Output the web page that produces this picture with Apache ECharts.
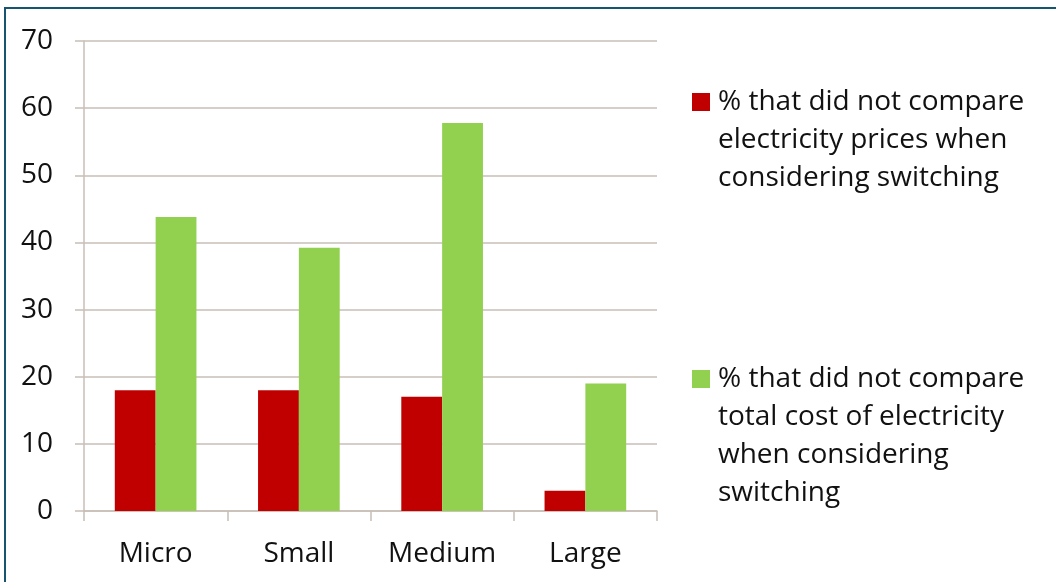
<!DOCTYPE html>
<html>
<head>
<meta charset="utf-8">
<script src="https://cdn.jsdelivr.net/npm/echarts@6/dist/echarts.min.js"></script>
<style>
  html, body { margin: 0; padding: 0; background: #fff; }
  #frame { position: absolute; left: 4px; top: 7px; width: 1052px; height: 575px;
           border-top: 2px solid #17546f; border-left: 2px solid #17546f; box-sizing: border-box; }
  #chart { position: absolute; left: 0; top: 0; width: 1056px; height: 582px; }
</style>
</head>
<body>
<div id="frame"></div>
<div id="chart"></div>
<script>
const categories = ['Micro', 'Small', 'Medium', 'Large'];
const seriesNames = [
  '% that did not compare electricity prices when considering switching',
  '% that did not compare total cost of electricity when considering switching'
];
const legendLines = [
  ['% that did not compare', 'electricity prices when', 'considering switching'],
  ['% that did not compare', 'total cost of electricity', 'when considering', 'switching']
];
const pricesValues = [18, 18, 17, 3];
const totalCostValues = [43.8, 39.2, 57.8, 19];
const yTicks = { min: 0, max: 70, interval: 10 };

const FONT = 'Open Sans';
const FS = 28;
const colors = ['#c00000', '#92d050'];
const gridColor = '#c8bfb7';

function legendFormatter(idx) {
  return function () {
    const lines = legendLines[idx];
    return lines.map((l, i) => (i === 0 ? '{sq' + idx + '|}{gp|}' : '{sp|}') + '{t|' + l + '}').join('\n');
  };
}
const rich = {
  sq0: { width: 18, height: 18, backgroundColor: colors[0] },
  sq1: { width: 18, height: 18, backgroundColor: colors[1] },
  gp: { width: 8 },
  sp: { width: 26 },
  t: { fontFamily: FONT, fontSize: FS, lineHeight: 38, color: '#111' }
};

const chart = echarts.init(document.getElementById('chart'), null, { renderer: 'canvas' });
chart.setOption({
  animation: false,
  textStyle: { fontFamily: FONT },
  grid: { left: 84, right: 399, top: 41, bottom: 71, containLabel: false },
  legend: [
    { data: [seriesNames[0]], left: 682, top: 83, icon: 'none', itemWidth: 0, itemGap: 0,
      formatter: legendFormatter(0), textStyle: { rich: rich }, selectedMode: false },
    { data: [seriesNames[1]], left: 682, top: 360, icon: 'none', itemWidth: 0, itemGap: 0,
      formatter: legendFormatter(1), textStyle: { rich: rich }, selectedMode: false }
  ],
  xAxis: {
    type: 'category',
    data: categories,
    axisLine: { lineStyle: { color: gridColor, width: 1.5 } },
    axisTick: { show: true, length: 10, lineStyle: { color: gridColor, width: 1.5 } },
    axisLabel: { fontFamily: FONT, fontSize: FS, color: '#111', margin: 29 }
  },
  yAxis: {
    type: 'value',
    min: yTicks.min, max: yTicks.max, interval: yTicks.interval,
    axisLine: { show: true, lineStyle: { color: gridColor, width: 1.5 } },
    axisTick: { show: true, length: 9, lineStyle: { color: gridColor, width: 1.5 } },
    axisLabel: { fontFamily: FONT, fontSize: FS, color: '#111', margin: 31 },
    splitLine: { lineStyle: { color: gridColor, width: 1.5 } }
  },
  series: [
    { name: seriesNames[0], type: 'bar', data: pricesValues, barGap: '0%', barCategoryGap: '43%',
      itemStyle: { color: colors[0] } },
    { name: seriesNames[1], type: 'bar', data: totalCostValues, barGap: '0%', barCategoryGap: '43%',
      itemStyle: { color: colors[1] } }
  ]
});
</script>
</body>
</html>
